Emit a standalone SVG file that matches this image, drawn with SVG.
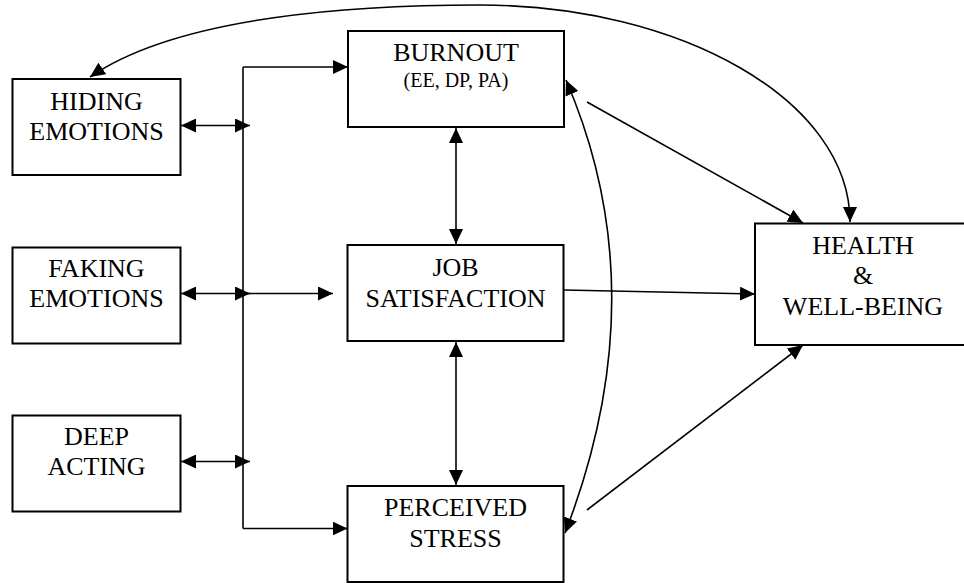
<svg xmlns="http://www.w3.org/2000/svg" width="964" height="583" viewBox="0 0 964 583">
<defs>
<marker id="ah" markerUnits="userSpaceOnUse" markerWidth="16" markerHeight="14" refX="15" refY="7" orient="auto-start-reverse" viewBox="0 0 16 14">
<path d="M0,0 L15,7 L0,14 z" fill="#000"/>
</marker>
<style>
.box{fill:#fff;stroke:#000;stroke-width:2}
.t{font-family:"Liberation Serif","Times New Roman",serif;font-size:26px;text-anchor:middle;fill:#000}
.s{font-size:20px}
.c{fill:none;stroke:#000;stroke-width:1.6}
.a{marker-end:url(#ah)}
.b{marker-start:url(#ah);marker-end:url(#ah)}
</style>
</defs>
<rect width="964" height="583" fill="#fff"/>
<g id="hiding"><rect class="box" x="12.5" y="79" width="168" height="96"/><text class="t" x="96.5" y="109.5">HIDING</text><text class="t" x="96.5" y="140">EMOTIONS</text></g>
<g id="faking"><rect class="box" x="12.5" y="247.5" width="168" height="96"/><text class="t" x="96.5" y="277">FAKING</text><text class="t" x="96.5" y="307">EMOTIONS</text></g>
<g id="deep"><rect class="box" x="12.5" y="415.5" width="168" height="96"/><text class="t" x="96.5" y="444.5">DEEP</text><text class="t" x="96.5" y="475">ACTING</text></g>
<g id="burnout"><rect class="box" x="348" y="31" width="216" height="96"/><text class="t" x="456" y="61">BURNOUT</text><text class="t s" x="456" y="87">(EE, DP, PA)</text></g>
<g id="job"><rect class="box" x="347.5" y="245" width="216" height="96"/><text class="t" x="455.5" y="276">JOB</text><text class="t" x="455.5" y="307">SATISFACTION</text></g>
<g id="stress"><rect class="box" x="347.5" y="486" width="216" height="96"/><text class="t" x="455.5" y="516">PERCEIVED</text><text class="t" x="455.5" y="547">STRESS</text></g>
<g id="health"><rect class="box" x="755" y="223.5" width="216" height="121.5"/><text class="t" x="863" y="253.5">HEALTH</text><text class="t" x="863" y="283.5">&amp;</text><text class="t" x="863" y="315">WELL-BEING</text></g>
<g id="connectors">
<path class="c b" d="M181,125.5 L250,125.5"/>
<path class="c b" d="M181,293.5 L250,293.5"/>
<path class="c b" d="M181,461.5 L250,461.5"/>
<path class="c" d="M243,67 L243,528.5"/>
<path class="c a" d="M243,67 L348,67"/>
<path class="c a" d="M243,528.5 L347.5,528.5"/>
<path class="c a" d="M243,293.5 L333,293.5"/>
<path class="c b" d="M456,128 L456,244"/>
<path class="c b" d="M456,342 L456,485"/>
<path class="c b" d="M90,77 C180,15 360,5 480,5 C680,5 850,100 850,222"/>
<path class="c b" d="M566,80 Q658,293 565,533"/>
<path class="c a" d="M587,102 L803,223"/>
<path class="c a" d="M564,290 L755,294"/>
<path class="c a" d="M587,510 L803,345"/>
</g>
</svg>
